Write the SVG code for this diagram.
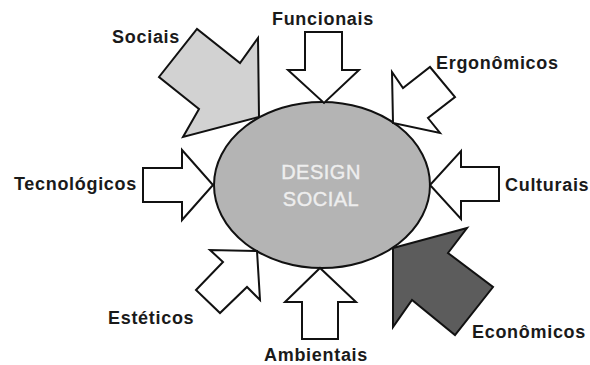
<svg xmlns="http://www.w3.org/2000/svg" width="590" height="365" viewBox="0 0 590 365">
  <style>
    .bg { fill: #ffffff; }
    .hub { fill: #b4b4b4; stroke: #111; stroke-width: 2; }
    .hub-text { font-family: "Liberation Sans", Arial, sans-serif; font-size: 20px; fill: #eeeeee; text-anchor: middle; letter-spacing: 0.5px; stroke: #eeeeee; stroke-width: 0.4; }
    .arrow { fill: #ffffff; stroke: #111; stroke-width: 2; stroke-linejoin: miter; }
    .arrow.light { fill: #d2d2d2; }
    .arrow.dark { fill: #5c5c5c; }
    .label { font-family: "Liberation Sans", Arial, sans-serif; font-size: 18px; font-weight: bold; fill: #1a1a1a; letter-spacing: 0.7px; }
  </style>
  <rect class="bg" x="0" y="0" width="590" height="365"/>

  <!-- central node -->
  <g id="design-social">
    <ellipse class="hub" cx="322" cy="185" rx="108" ry="83"/>
    <text class="hub-text" x="321" y="179">DESIGN</text>
    <text class="hub-text" x="321" y="206">SOCIAL</text>
  </g>

  <!-- block arrows pointing at the central node -->
  <g id="connectors">
    <polygon class="arrow light" points="259,117 258,38 240,63 197,29 159,77 199,109 183,137"/>
    <polygon class="arrow" points="305,32 342,32 342,70 359,70 324,103 288,70 305,70"/>
    <polygon class="arrow" points="393,123 392,72 403,88 430,67 455,97 428,118 440,133"/>
    <polygon class="arrow" points="143,168 182,168 182,150 213,185 182,220 182,202 143,202"/>
    <polygon class="arrow" points="499,167 461,167 461,151 430,185 461,219 461,201 499,201"/>
    <polygon class="arrow" points="257,251 260,300 247,287 220,313 196,290 223,262 210,250"/>
    <polygon class="arrow" points="302,339 338,339 338,302 356,302 320,268 285,302 302,302"/>
    <polygon class="arrow dark" points="393,248 467,228 448,253 493,287 455,335 412,300 393,327"/>
  </g>

  <!-- factor labels -->
  <g id="sociais"><text class="label" x="180" y="43" text-anchor="end">Sociais</text></g>
  <g id="funcionais"><text class="label" x="323" y="25" text-anchor="middle">Funcionais</text></g>
  <g id="ergonomicos"><text class="label" x="436" y="69">Ergonômicos</text></g>
  <g id="tecnologicos"><text class="label" x="137" y="190" text-anchor="end">Tecnológicos</text></g>
  <g id="culturais"><text class="label" x="505" y="191">Culturais</text></g>
  <g id="esteticos"><text class="label" x="108" y="324">Estéticos</text></g>
  <g id="ambientais"><text class="label" x="316" y="361" text-anchor="middle">Ambientais</text></g>
  <g id="economicos"><text class="label" x="472" y="338">Econômicos</text></g>
</svg>
